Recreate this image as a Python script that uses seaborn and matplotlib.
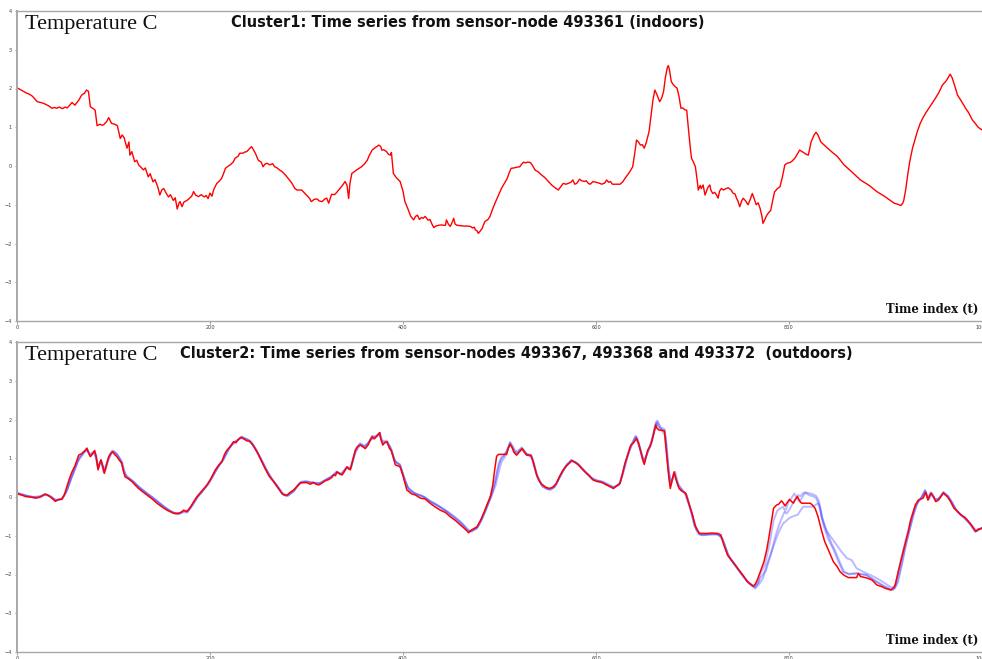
import matplotlib
matplotlib.use("Agg")
import matplotlib.pyplot as plt
import pandas as pd
import seaborn as sns

# ---------------------------------------------------------------
# Cluster 1 : indoor sensor-node 493361, (time index, temperature)
# ---------------------------------------------------------------
indoor_493361 = [
    (0, 2.02), (5, 1.95), (10, 1.88), (13, 1.85), (16, 1.80), (21, 1.66), (26, 1.63),
    (29, 1.60), (33, 1.55), (36, 1.49), (39, 1.51), (41, 1.49), (44, 1.52), (47, 1.48),
    (50, 1.52), (52, 1.50), (55, 1.58), (57, 1.64), (60, 1.57), (64, 1.70), (67, 1.83),
    (70, 1.88), (72, 1.96), (74, 1.93), (76, 1.53), (79, 1.48), (81, 1.44), (83, 1.04),
    (86, 1.08), (88, 1.05), (90, 1.07), (93, 1.15), (95, 1.25), (98, 1.10), (101, 1.08),
    (104, 1.04), (107, 0.71), (109, 0.80), (111, 0.73), (114, 0.46), (116, 0.62),
    (117, 0.28), (119, 0.37), (122, 0.11), (124, 0.15), (126, 0.03), (128, -0.02),
    (131, -0.10), (133, -0.05), (136, -0.28), (138, -0.20), (141, -0.41), (143, -0.35),
    (146, -0.55), (148, -0.75), (150, -0.62), (152, -0.58), (155, -0.72), (157, -0.80),
    (159, -0.74), (162, -0.89), (164, -0.82), (166, -1.11), (168, -0.95), (169, -0.92),
    (171, -1.05), (173, -0.93), (176, -0.89), (178, -0.85), (181, -0.78), (183, -0.66),
    (185, -0.75), (188, -0.79), (191, -0.74), (194, -0.80), (196, -0.76), (198, -0.84),
    (200, -0.70), (202, -0.78), (204, -0.60), (207, -0.45), (210, -0.38), (212, -0.32),
    (214, -0.20), (216, -0.06), (219, 0.00), (221, 0.03), (224, 0.10), (226, 0.20),
    (229, 0.25), (231, 0.33), (234, 0.33), (236, 0.36), (238, 0.37), (241, 0.45),
    (243, 0.50), (245, 0.42), (247, 0.33), (250, 0.15), (253, 0.10), (255, -0.02),
    (257, 0.05), (259, 0.07), (262, 0.03), (265, 0.06), (267, -0.02), (269, -0.04),
    (272, -0.10), (275, -0.15), (278, -0.23), (282, -0.35), (285, -0.45), (288, -0.58),
    (290, -0.62), (295, -0.62), (298, -0.70), (300, -0.75), (303, -0.83), (305, -0.92),
    (308, -0.86), (311, -0.85), (313, -0.90), (316, -0.92), (319, -0.85), (321, -0.83),
    (323, -0.96), (326, -0.73), (329, -0.74), (331, -0.69), (334, -0.60), (337, -0.51),
    (340, -0.40), (342, -0.50), (343.7, -0.84), (345, -0.45), (347, -0.19), (350, -0.14),
    (352, -0.10), (355, -0.05), (357, -0.02), (360, 0.05), (363, 0.15), (365, 0.27),
    (368, 0.41), (371, 0.47), (375, 0.54), (377, 0.50), (378, 0.41), (380, 0.42),
    (383, 0.37), (385, 0.30), (387, 0.28), (388, 0.35), (390, -0.19), (393, -0.30),
    (397, -0.40), (400, -0.65), (402, -0.92), (405, -1.10), (408, -1.30), (411, -1.39),
    (413, -1.30), (415, -1.27), (417, -1.38), (419, -1.33), (421, -1.35), (423, -1.30),
    (426, -1.40), (428, -1.38), (430, -1.50), (432, -1.59), (434, -1.55), (437, -1.53),
    (440, -1.52), (442, -1.53), (444, -1.53), (445, -1.39), (447, -1.50), (449, -1.56),
    (451, -1.45), (452.5, -1.35), (454, -1.50), (456, -1.53), (460, -1.54), (463, -1.55),
    (467, -1.55), (470, -1.56), (472, -1.60), (474, -1.58), (475, -1.65), (477, -1.68),
    (478, -1.74), (480, -1.68), (482, -1.61), (484, -1.48), (485, -1.43), (488, -1.38),
    (490, -1.31), (493, -1.10), (496, -0.92), (499, -0.75), (502, -0.58), (505, -0.45),
    (508, -0.32), (510, -0.18), (512, -0.06), (515, -0.05), (518, -0.03), (521, -0.02),
    (523, 0.05), (525, 0.10), (527, 0.08), (529, 0.10), (532, 0.09), (534, 0.02),
    (537, -0.11), (540, -0.15), (544, -0.24), (547, -0.30), (550, -0.38), (554, -0.49),
    (557, -0.55), (561, -0.62), (563, -0.55), (566, -0.45), (569, -0.47), (571, -0.45),
    (574, -0.42), (576, -0.36), (578, -0.47), (580, -0.45), (583, -0.34), (585, -0.38),
    (588, -0.40), (590, -0.38), (592, -0.45), (594, -0.47), (597, -0.40), (600, -0.42),
    (603, -0.44), (606, -0.47), (609, -0.44), (611, -0.36), (613, -0.42), (615, -0.40),
    (617, -0.47), (620, -0.47), (623, -0.47), (625, -0.47), (628, -0.40), (630, -0.32),
    (633, -0.22), (635, -0.15), (638, -0.02), (640, 0.30), (642, 0.67), (644, 0.62),
    (646, 0.54), (648, 0.55), (650, 0.46), (652, 0.60), (655, 0.89), (657, 1.30),
    (659, 1.70), (661, 1.96), (663, 1.85), (666, 1.66), (668, 1.75), (670, 1.92),
    (672, 2.30), (674, 2.55), (675, 2.59), (676, 2.50), (678, 2.18), (680, 2.10),
    (682, 2.05), (684, 2.01), (686, 1.80), (688, 1.49), (690, 1.50), (692, 1.45),
    (694, 1.44), (696, 0.90), (698, 0.40), (699, 0.20), (701, 0.10), (703, -0.02),
    (705, -0.40), (706, -0.62), (708, -0.50), (709, -0.58), (711, -0.49), (713, -0.75),
    (715, -0.62), (716, -0.55), (718, -0.49), (719, -0.62), (721, -0.71), (723, -0.68),
    (725, -0.75), (726.5, -0.83), (728, -0.65), (730, -0.58), (732, -0.62), (735, -0.58),
    (737, -0.56), (740, -0.62), (742, -0.70), (744, -0.72), (745.6, -0.83), (747, -0.90),
    (749, -1.05), (751, -0.90), (752.5, -0.83), (755, -0.90), (757.6, -1.00), (760, -0.85),
    (762, -0.71), (764, -0.85), (766, -1.00), (768, -0.95), (770, -1.09), (772, -1.30),
    (773, -1.48), (775, -1.38), (777, -1.27), (779, -1.20), (781, -1.15), (783, -0.90),
    (785, -0.67), (788, -0.58), (790.6, -0.54), (793, -0.30), (795.7, 0.03), (798, 0.07),
    (801, 0.09), (803, 0.12), (806, 0.20), (808, 0.28), (811, 0.41), (813, 0.38),
    (816, 0.33), (818, 0.30), (820, 0.28), (823, 0.63), (826, 0.80), (828, 0.87),
    (830, 0.80), (833, 0.62), (836, 0.55), (840, 0.46), (845, 0.35), (850, 0.25),
    (857, 0.03), (865, -0.15), (874, -0.36), (883, -0.50), (891, -0.66), (900, -0.80),
    (909, -0.96), (913, -0.99), (916, -1.02), (918, -0.95), (919, -0.88), (921, -0.60),
    (923, -0.23), (925, 0.10), (928, 0.46), (931, 0.72), (933, 0.89), (936, 1.10),
    (938.5, 1.23), (942, 1.38), (947, 1.57), (951, 1.72), (955, 1.88), (959, 2.09),
    (963, 2.20), (967, 2.37), (969, 2.28), (972, 2.05), (974.6, 1.83), (978, 1.70),
    (983, 1.49), (986, 1.38), (990, 1.19), (993, 1.10), (996, 1.00), (1000, 0.93),
]

# ---------------------------------------------------------------
# Cluster 2 : outdoor nodes, cluster centre (red) and members (blue)
# ---------------------------------------------------------------
outdoor_centre = [
    (0, 0.08), (5, 0.05), (9, 0.01), (14, 0.00), (19, -0.03), (24, 0.00), (29, 0.07),
    (32, 0.05), (34.5, 0.00), (37, -0.05), (39.7, -0.11), (43, -0.06), (46.6, -0.06),
    (49, 0.05), (51.8, 0.27), (54, 0.45), (57, 0.65), (60, 0.80), (63.9, 1.08), (67, 1.12),
    (69, 1.17), (71, 1.20), (72.5, 1.26), (74, 1.15), (76, 1.04), (78, 1.10), (80.5, 1.20),
    (82, 1.05), (84, 0.70), (85.5, 0.85), (87, 0.96), (89, 0.80), (90.5, 0.61), (92, 0.75),
    (95, 1.04), (97, 1.12), (99.5, 1.17), (101, 1.10), (103.6, 1.04), (106, 0.95),
    (108.8, 0.87), (110, 0.70), (112, 0.52), (115, 0.48), (119, 0.40), (122, 0.32),
    (126, 0.22), (130, 0.14), (134.7, 0.05), (140, -0.05), (145, -0.16), (150, -0.25),
    (155.4, -0.34), (159, -0.38), (162.3, -0.42), (167.5, -0.42), (170, -0.40),
    (172.7, -0.34), (176, -0.38), (180, -0.25), (186.5, 0.01), (192, 0.17), (197, 0.31),
    (201, 0.48), (205.5, 0.70), (209, 0.82), (212.4, 0.91), (215, 1.10), (217.6, 1.21),
    (221, 1.30), (224.5, 1.43), (227, 1.40), (229, 1.48), (232, 1.54), (235, 1.50),
    (238, 1.45), (241, 1.44), (244, 1.35), (248.7, 1.17), (253, 0.95), (257, 0.74),
    (261, 0.55), (266, 0.40), (270, 0.25), (274.6, 0.09), (277, 0.05), (280, 0.05),
    (283, 0.12), (286.7, 0.18), (290, 0.27), (293.6, 0.37), (297, 0.37), (300.5, 0.37),
    (304, 0.33), (307, 0.38), (310, 0.33), (312.6, 0.31), (316, 0.36), (319.5, 0.42),
    (323, 0.45), (326, 0.50), (328, 0.57), (330, 0.55), (331.6, 0.65), (334, 0.60),
    (336.8, 0.57), (339, 0.65), (342, 0.78), (344, 0.72), (345.4, 0.70), (348, 0.95),
    (350.6, 1.21), (353, 1.30), (355.8, 1.34), (358, 1.30), (361, 1.25), (364, 1.35),
    (366, 1.47), (368, 1.56), (370, 1.50), (371, 1.52), (373, 1.58), (375.8, 1.66),
    (377, 1.50), (379, 1.34), (381, 1.40), (383.4, 1.43), (386, 1.25), (388, 1.20),
    (392, 0.83), (397, 0.78), (400, 0.55), (404, 0.18), (409, 0.08), (413, 0.05),
    (418, -0.03), (423, -0.05), (428, -0.16), (433, -0.25), (438.7, -0.34), (444, -0.40),
    (449, -0.51), (454, -0.60), (459.4, -0.72), (464, -0.82), (468, -0.92), (471, -0.85),
    (476.7, -0.77), (480, -0.62), (483.6, -0.42), (487, -0.20), (490.5, 0.01), (493, 0.30),
    (495, 0.70), (497, 1.05), (499, 1.10), (503, 1.10), (507.4, 1.10), (509, 1.25),
    (510.8, 1.36), (513, 1.28), (515, 1.15), (517.8, 1.08), (520, 1.15), (523.6, 1.25),
    (526, 1.15), (528, 1.08), (532.5, 1.08), (535, 0.90), (538.5, 0.57), (541, 0.42),
    (543.7, 0.33), (548, 0.25), (552, 0.22), (555, 0.25), (559, 0.35), (562, 0.52),
    (566, 0.70), (570, 0.82), (575, 0.93), (578, 0.90), (581.7, 0.83), (585, 0.74),
    (588.6, 0.65), (593, 0.55), (597, 0.44), (601, 0.40), (605.8, 0.38), (612, 0.30),
    (618, 0.22), (621, 0.28), (624.8, 0.35), (627, 0.55), (630, 0.87), (633, 1.10),
    (636, 1.34), (639, 1.40), (642, 1.51), (644, 1.40), (645.5, 1.25), (648, 1.00),
    (650, 0.84), (652, 1.05), (653.6, 1.21), (656, 1.30), (657.7, 1.43), (660, 1.65),
    (661.9, 1.86), (663, 1.78), (665, 1.73), (668, 1.72), (671, 1.70), (672, 1.40),
    (674, 0.87), (675.5, 0.50), (677, 0.22), (679, 0.45), (681, 0.65), (683, 0.45),
    (686, 0.22), (689, 0.15), (693, 0.10), (696, -0.15), (700, -0.46), (703, -0.75),
    (707, -0.94), (711, -0.94), (715.6, -0.94), (720, -0.93), (726, -0.94), (729.4, -0.98),
    (732, -1.20), (736.3, -1.50), (740, -1.62), (743, -1.71), (748, -1.88), (752, -2.01),
    (755, -2.12), (757, -2.19), (760, -2.25), (763, -2.30), (765, -2.25), (767, -2.15),
    (770, -1.95), (774, -1.67), (777, -1.35), (779, -1.07), (782, -0.60), (784, -0.29),
    (787, -0.21), (789.6, -0.18), (792, -0.10), (793, -0.12), (796, -0.23), (798, -0.15),
    (800.5, -0.06), (802, -0.10), (804.6, -0.16), (806, -0.08), (808.8, 0.01), (811, -0.10),
    (813, -0.16), (822, -0.16), (824, -0.20), (827, -0.29), (830, -0.50), (834, -0.89),
    (837, -1.15), (840, -1.32), (846, -1.67), (850, -1.80), (853, -1.93), (857, -2.02),
    (861.6, -2.08), (866, -2.08), (870, -2.08), (872, -1.97), (874, -2.05), (880.6, -2.09),
    (886, -2.14), (891, -2.27), (896, -2.31), (900, -2.36), (905.6, -2.40), (908, -2.35),
    (910, -2.27), (913, -1.95), (916.6, -1.58), (920, -1.25), (923.6, -0.89), (926, -0.60),
    (928.8, -0.38), (931, -0.20), (934, -0.08), (937, -0.05), (939, -0.03), (941.6, 0.12),
    (944, -0.08), (947, 0.10), (950, 0.00), (952, -0.12), (955, -0.08), (957, 0.00),
    (960, 0.10), (962, 0.05), (964, 0.01), (967, -0.10), (971, -0.29), (975, -0.38),
    (978, -0.46), (982, -0.52), (985, -0.60), (989, -0.72), (993.5, -0.89), (996, -0.83),
    (998.6, -0.82), (1000, -0.80),
]

node_493367 = [
    (0, 0.10), (6, 0.05), (12, 0.02), (18, 0.00), (24, 0.02), (29, 0.08), (34, 0.02),
    (40, -0.08), (46, -0.05), (50, 0.08), (53, 0.25), (57, 0.55), (60, 0.75), (64, 1.00),
    (68, 1.12), (72, 1.25), (74, 1.15), (76, 1.06), (80, 1.18), (82, 1.08), (84, 0.75),
    (87, 0.95), (90, 0.65), (92, 0.72), (95, 1.00), (99, 1.20), (101, 1.18), (104, 1.08),
    (108, 0.92), (111, 0.62), (113, 0.52), (119, 0.43), (126, 0.26), (134, 0.10),
    (140, 0.00), (146, -0.12), (152, -0.24), (158, -0.35), (163, -0.42), (168, -0.44),
    (173, -0.36), (177, -0.38), (181, -0.25), (187, 0.00), (192, 0.15), (198, 0.33),
    (205, 0.64), (210, 0.85), (214, 0.98), (218, 1.20), (224, 1.40), (229, 1.47),
    (233, 1.56), (238, 1.48), (242, 1.45), (247, 1.25), (253, 0.98), (258, 0.72),
    (264, 0.48), (270, 0.28), (275, 0.08), (279, 0.02), (283, 0.08), (287, 0.15),
    (291, 0.30), (295, 0.40), (300, 0.40), (305, 0.35), (310, 0.37), (315, 0.36),
    (320, 0.45), (326, 0.52), (331, 0.66), (336, 0.58), (341, 0.76), (345, 0.72),
    (349, 1.05), (352, 1.28), (356, 1.38), (360, 1.32), (364, 1.38), (368, 1.58),
    (372, 1.54), (376, 1.65), (378, 1.45), (382, 1.45), (386, 1.30), (390, 1.05),
    (393, 0.88), (397, 0.82), (401, 0.50), (405, 0.22), (410, 0.12), (416, 0.05),
    (422, 0.00), (428, -0.10), (434, -0.18), (440, -0.28), (446, -0.38), (452, -0.50),
    (458, -0.62), (463, -0.75), (468, -0.90), (472, -0.86), (477, -0.80), (481, -0.60),
    (485, -0.38), (489, -0.12), (493, 0.15), (496, 0.45), (499, 0.85), (502, 1.02),
    (506, 1.12), (508, 1.18), (511, 1.42), (514, 1.30), (518, 1.12), (523, 1.28),
    (528, 1.12), (533, 1.08), (536, 0.85), (539, 0.55), (543, 0.35), (548, 0.24),
    (553, 0.18), (558, 0.28), (563, 0.55), (568, 0.78), (575, 0.95), (581, 0.86),
    (588, 0.68), (595, 0.50), (601, 0.43), (607, 0.40), (613, 0.32), (618, 0.24),
    (624, 0.33), (628, 0.60), (632, 1.00), (636, 1.30), (641, 1.58), (643, 1.50),
    (646, 1.25), (650, 0.88), (653, 1.15), (657, 1.40), (661, 1.80), (663, 1.97),
    (666, 1.80), (671, 1.75), (673, 1.40), (675, 0.80), (677, 0.30), (680, 0.55),
    (682, 0.65), (685, 0.35), (690, 0.16), (694, 0.05), (698, -0.30), (702, -0.70),
    (706, -0.96), (712, -0.97), (720, -0.96), (728, -0.97), (732, -1.15), (737, -1.50),
    (743, -1.72), (750, -1.95), (756, -2.15), (762, -2.28), (765, -2.33), (768, -2.20),
    (770, -2.00), (775, -1.75), (780, -1.20), (784, -0.60), (788, -0.35), (791, -0.29),
    (794, -0.25), (796, -0.38), (799, -0.16), (802, -0.05), (805.5, 0.09), (808, -0.02),
    (811, -0.12), (814, 0.00), (816.6, 0.11), (819, 0.08), (821.5, 0.04), (825, 0.02),
    (828, -0.03), (832, -0.25), (836, -0.75), (840, -1.05), (846, -1.35), (850, -1.60),
    (856, -1.93), (862, -2.00), (870, -1.97), (875, -2.00), (880, -2.01), (888, -2.14),
    (895, -2.25), (900, -2.33), (906, -2.40), (910, -2.32), (914, -1.85), (918, -1.40),
    (922, -1.00), (926, -0.65), (930, -0.30), (934, -0.10), (938, 0.00), (941, 0.18),
    (944, -0.02), (947, 0.12), (951, -0.05), (955, -0.06), (960, 0.12), (964, 0.04),
    (968, -0.10), (972, -0.30), (978, -0.45), (984, -0.58), (990, -0.75), (994, -0.88),
    (998, -0.82), (1000, -0.80),
]

node_493368 = [
    (0, 0.12), (8, 0.04), (16, 0.00), (24, 0.01), (30, 0.07), (36, 0.00), (41, -0.09),
    (47, -0.04), (52, 0.20), (56, 0.48), (61, 0.78), (65, 1.02), (70, 1.16), (73, 1.22),
    (76, 1.07), (80, 1.17), (84, 0.78), (87, 0.92), (90, 0.68), (95, 0.98), (99, 1.16),
    (104, 1.10), (109, 0.90), (112, 0.60), (118, 0.45), (126, 0.27), (134, 0.11),
    (142, -0.04), (150, -0.20), (158, -0.35), (165, -0.43), (172, -0.37), (178, -0.34),
    (185, -0.05), (192, 0.14), (200, 0.40), (207, 0.72), (214, 0.96), (220, 1.26),
    (226, 1.42), (232, 1.52), (238, 1.50), (244, 1.38), (250, 1.10), (256, 0.80),
    (262, 0.52), (268, 0.32), (275, 0.10), (280, 0.04), (286, 0.14), (292, 0.32),
    (298, 0.40), (305, 0.38), (312, 0.34), (318, 0.42), (325, 0.50), (331, 0.63),
    (336, 0.60), (341, 0.74), (346, 0.75), (350, 1.12), (355, 1.38), (360, 1.30),
    (366, 1.45), (370, 1.55), (375, 1.62), (379, 1.40), (383, 1.42), (387, 1.28),
    (391, 0.95), (396, 0.85), (400, 0.60), (405, 0.25), (412, 0.10), (420, 0.03),
    (428, -0.12), (436, -0.22), (444, -0.34), (452, -0.48), (460, -0.64), (466, -0.80),
    (470, -0.90), (476, -0.82), (481, -0.62), (486, -0.32), (491, 0.00), (495, 0.35),
    (498, 0.70), (501, 0.95), (505, 1.08), (511, 1.38), (517, 1.10), (523, 1.22),
    (528, 1.10), (533, 1.05), (538, 0.62), (544, 0.28), (550, 0.20), (556, 0.24),
    (562, 0.48), (568, 0.76), (574, 0.96), (580, 0.88), (588, 0.66), (596, 0.46),
    (604, 0.40), (612, 0.31), (618, 0.26), (624, 0.30), (629, 0.72), (634, 1.15),
    (640, 1.50), (642, 1.55), (646, 1.20), (650, 0.90), (654, 1.20), (658, 1.45),
    (662, 1.92), (666, 1.76), (671, 1.72), (674, 0.95), (677, 0.28), (681, 0.62),
    (685, 0.30), (692, 0.10), (697, -0.25), (702, -0.75), (708, -0.98), (716, -0.96),
    (724, -0.96), (730, -1.02), (736, -1.45), (742, -1.70), (750, -1.97), (757, -2.18),
    (764, -2.32), (768, -2.22), (770, -2.10), (776, -1.90), (781, -1.50), (786, -1.00),
    (790, -0.70), (792.5, -0.55), (795, -0.40), (798, -0.42), (801, -0.30), (804, -0.16),
    (807, -0.05), (809, 0.05), (812, 0.02), (814, 0.09), (817, 0.12), (820, 0.10),
    (824, 0.08), (828, 0.03), (831, -0.10), (834, -0.50), (838, -0.80), (844, -1.20),
    (848, -1.40), (853, -1.70), (857, -1.93), (862, -1.98), (870, -1.97), (880, -2.01),
    (890, -2.18), (897, -2.28), (903, -2.35), (908, -2.40), (912, -2.20), (916, -1.80),
    (920, -1.35), (924, -0.95), (928, -0.55), (932, -0.22), (936, -0.05), (941, 0.15),
    (944, -0.05), (947, 0.08), (952, -0.10), (956, -0.02), (960, 0.13), (964, 0.03),
    (968, -0.12), (974, -0.36), (980, -0.50), (986, -0.65), (993, -0.88), (998, -0.83),
    (1000, -0.80),
]

node_493372 = [
    (0, 0.09), (7, 0.06), (14, 0.01), (22, -0.02), (29, 0.06), (35, 0.01), (40, -0.10),
    (46, -0.06), (51, 0.12), (55, 0.40), (59, 0.65), (63, 0.92), (68, 1.10), (72, 1.24),
    (75, 1.10), (79, 1.16), (82, 1.02), (84, 0.72), (87, 0.94), (90, 0.63), (94, 0.95),
    (98, 1.18), (102, 1.14), (107, 0.96), (111, 0.66), (114, 0.50), (120, 0.41),
    (128, 0.22), (136, 0.06), (144, -0.10), (152, -0.26), (160, -0.38), (166, -0.45),
    (171, -0.40), (176, -0.40), (182, -0.20), (188, 0.02), (195, 0.24), (202, 0.50),
    (209, 0.80), (216, 1.08), (222, 1.34), (228, 1.46), (233, 1.55), (240, 1.47),
    (246, 1.30), (252, 1.02), (258, 0.74), (264, 0.46), (270, 0.28), (276, 0.06),
    (281, 0.03), (288, 0.20), (294, 0.38), (301, 0.40), (308, 0.36), (314, 0.34),
    (320, 0.44), (327, 0.56), (332, 0.64), (337, 0.58), (342, 0.77), (346, 0.74),
    (351, 1.18), (356, 1.35), (361, 1.28), (366, 1.48), (371, 1.54), (376, 1.66),
    (379, 1.38), (384, 1.44), (388, 1.22), (392, 0.90), (397, 0.84), (402, 0.40),
    (407, 0.17), (414, 0.07), (422, 0.00), (430, -0.14), (438, -0.26), (446, -0.40),
    (454, -0.56), (461, -0.70), (467, -0.86), (471, -0.88), (477, -0.78), (482, -0.55),
    (487, -0.25), (492, 0.05), (496, 0.30), (499, 0.62), (502, 0.90), (506, 1.05),
    (511, 1.40), (516, 1.15), (523, 1.26), (529, 1.09), (534, 1.00), (539, 0.52),
    (545, 0.26), (551, 0.19), (557, 0.26), (564, 0.60), (570, 0.85), (575, 0.94),
    (582, 0.84), (590, 0.62), (598, 0.44), (606, 0.39), (614, 0.29), (619, 0.24),
    (625, 0.36), (630, 0.85), (635, 1.25), (641, 1.55), (645, 1.30), (649, 0.92),
    (653, 1.10), (657, 1.35), (661, 1.75), (664, 1.95), (668, 1.74), (672, 1.55),
    (675, 0.70), (678, 0.35), (681, 0.60), (686, 0.25), (693, 0.08), (699, -0.40),
    (704, -0.85), (710, -0.99), (718, -0.97), (726, -0.95), (731, -1.08), (738, -1.55),
    (745, -1.78), (752, -2.03), (758, -2.22), (765, -2.36), (769, -2.25), (773, -2.10),
    (777, -1.75), (782, -1.40), (787.5, -1.02), (791, -0.82), (794, -0.68), (797, -0.62),
    (800, -0.55), (804, -0.50), (809, -0.46), (812, -0.35), (814.6, -0.25), (820, -0.25),
    (825, -0.25), (830, -0.16), (832, -0.30), (834, -0.55), (839, -0.89), (844, -1.05),
    (848, -1.19), (854, -1.40), (860, -1.58), (865, -1.63), (870, -1.84), (877, -1.93),
    (884, -2.01), (894, -2.14), (904.5, -2.31), (909.6, -2.36), (913, -2.20), (917, -1.75),
    (921, -1.25), (925, -0.85), (929, -0.45), (933, -0.15), (937, -0.02), (941, 0.16),
    (945, -0.06), (948, 0.10), (952, -0.08), (957, 0.00), (960, 0.11), (965, 0.02),
    (969, -0.14), (975, -0.40), (981, -0.52), (987, -0.68), (993, -0.90), (997, -0.84),
    (1000, -0.79),
]

y_ticks = [-4, -3, -2, -1, 0, 1, 2, 3, 4]
x_ticks = [0, 200, 400, 600, 800, 1000]
panel_titles = [
    "Cluster1: Time series from sensor-node 493361 (indoors)",
    "Cluster2: Time series from sensor-nodes 493367, 493368 and 493372  (outdoors)",
]
y_label = "Temperature C"
x_label = "Time index (t)"

# ---------------------------------------------------------------
sns.set_style("white", {"axes.edgecolor": "#a8a8a8"})
plt.rcParams["font.family"] = ["DejaVu Sans"]

W, H = 982, 659
fig = plt.figure(figsize=(W / 100, H / 100), dpi=100)
ax_top = fig.add_axes([17 / W, (H - 321) / H, 965 / W, 310 / H])
ax_bot = fig.add_axes([17 / W, (H - 652) / H, 965 / W, 310 / H])

indoor = pd.DataFrame(indoor_493361, columns=["t", "temp"])
sns.lineplot(data=indoor, x="t", y="temp", color="#ff0000", lw=1.0,
             sort=False, errorbar=None, ax=ax_top)

members = pd.concat([
    pd.DataFrame(node, columns=["t", "temp"]).assign(node=name)
    for name, node in [("493367", node_493367), ("493368", node_493368),
                       ("493372", node_493372)]
])
sns.lineplot(data=members, x="t", y="temp", hue="node",
             palette={"493367": "#3030ff", "493368": "#3030ff", "493372": "#3030ff"},
             lw=1.4, alpha=0.33, sort=False, errorbar=None, legend=False, ax=ax_bot)
centre = pd.DataFrame(outdoor_centre, columns=["t", "temp"])
sns.lineplot(data=centre, x="t", y="temp", color="#ff0000", lw=1.1,
             sort=False, errorbar=None, ax=ax_bot)

for ax in (ax_top, ax_bot):
    ax.set_xlim(0, 1000)
    ax.set_ylim(-4, 4)
    ax.set_xticks(x_ticks)
    ax.set_yticks(y_ticks)
    ax.set_xlabel("")
    ax.set_ylabel("")
    ax.tick_params(axis="both", labelsize=3.6, length=1.8, width=0.6,
                   colors="#8a8a8a", labelcolor="#404040", bottom=True, left=True)
    ax.tick_params(axis="x", pad=1)
    ax.tick_params(axis="y", pad=2)
    ax.spines["right"].set_visible(False)
    for side in ("left", "bottom", "top"):
        ax.spines[side].set_linewidth(1.0)
        ax.spines[side].set_color("#a8a8a8")
    ax.spines["left"].set_linewidth(1.4)

# panel annotations, positioned in figure pixels from the top-left corner
for dy, title, title_x in ((0, panel_titles[0], 231), (331, panel_titles[1], 180)):
    fig.text(25 / W, 1 - (29 + dy) / H, y_label, family="Liberation Serif",
             fontsize=16, va="baseline", ha="left", color="#111111")
    fig.text(title_x / W, 1 - (27 + dy) / H, title, family="DejaVu Sans",
             fontweight="bold", fontsize=10.5, va="baseline", ha="left", color="#111111")
    fig.text(978 / W, 1 - (313 + dy) / H, x_label, family="DejaVu Serif",
             fontweight="bold", fontsize=8.4, va="baseline", ha="right", color="#111111")

fig.savefig("out.png", dpi=100)
